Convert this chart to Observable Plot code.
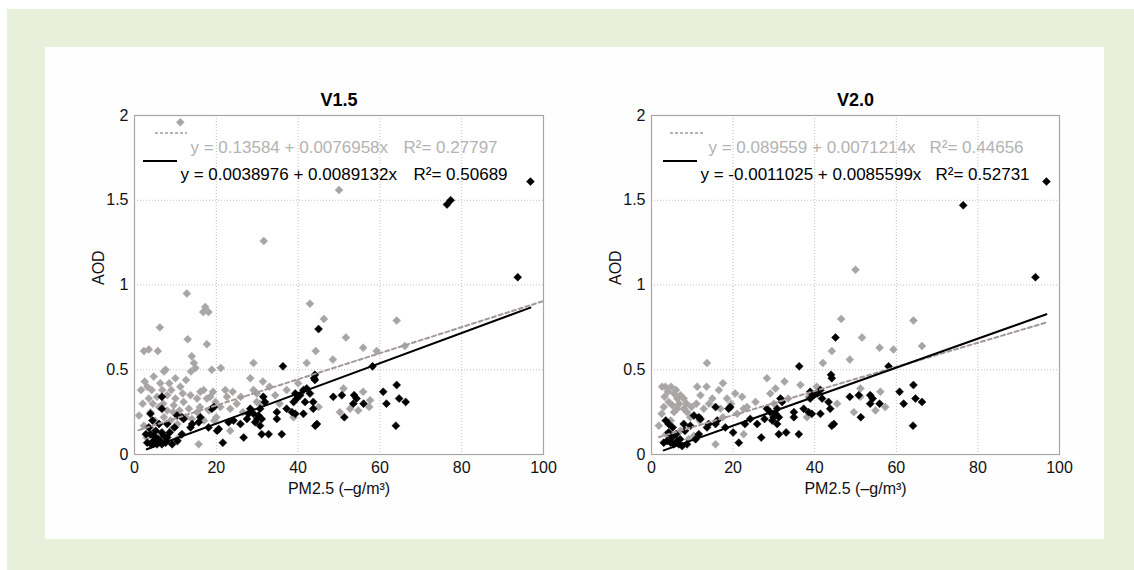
<!DOCTYPE html>
<html>
<head>
<meta charset="utf-8">
<script src="https://cdn.jsdelivr.net/npm/d3@7"></script>
<script src="https://cdn.jsdelivr.net/npm/@observablehq/plot@0.6"></script>
<style>
  html, body { margin: 0; padding: 0; background: #ffffff; }
  body { width: 1134px; height: 570px; position: relative; overflow: hidden; font-family: "Liberation Sans", Arial, sans-serif; }
  #green { position: absolute; left: 7px; top: 9px; width: 1127px; height: 561px; background: #e8f0dc; }
  #panel { position: absolute; left: 45px; top: 47px; width: 1059px; height: 492px; background: #fefefe; }
  .chart { position: absolute; top: 70px; }
  #left { left: 50px; }
  #right { left: 567px; }
</style>
</head>
<body>
<div id="green"></div>
<div id="panel"></div>
<div id="left" class="chart"></div>
<div id="right" class="chart"></div>
<script>
// ---------- data (PM2.5 µg/m3, AOD) ----------
const panelTitles = ["V1.5", "V2.0"];
const xTicks = [0, 20, 40, 60, 80, 100];
const yTicks = [0, 0.5, 1, 1.5, 2];

const v15Gray = [
  [11.2,1.96],[50,1.56],[31.6,1.26],
  [12.8,0.95],[17.3,0.87],[16.8,0.84],[18.1,0.84],[6.2,0.75],[13,0.68],[17.7,0.65],[2.3,0.61],[3.5,0.62],[5.7,0.61],
  [42.9,0.89],[46.3,0.80],[44.3,0.61],[51.7,0.69],[55.9,0.63],[59.2,0.61],[64.1,0.79],[66.1,0.64],[48.5,0.56],[42.1,0.54],[29.1,0.54],[21.1,0.51],[18.9,0.50],
  [14,0.58],[14.5,0.54],[13.8,0.49],[14.9,0.51],[7.2,0.49],[7.6,0.5],[4.7,0.46],[3.1,0.40],[6.3,0.42],[11.2,0.40],[16.1,0.37],[16.9,0.38],[19.2,0.37],[22.2,0.38],[22.6,0.34],[28.3,0.45],[31.4,0.43],[29.1,0.38],[29.9,0.36],[34.4,0.35],[37.2,0.38],[51.1,0.39],[57.6,0.32],[55.9,0.37],
  [1.1,0.23],[3.9,0.25],[5.5,0.34],[8,0.35],[9.6,0.29],[12,0.31],[13.3,0.27],[15.3,0.25],[13.7,0.35],[15.3,0.33],[18.5,0.34],[21,0.28],[23.4,0.27],[23.4,0.14],[15.7,0.06],[50.2,0.25],[52.7,0.27],[54.7,0.26],[57.4,0.28],[38.9,0.22],[29.9,0.31],[30.7,0.30],[9.2,0.15],[10.8,0.1],[3.9,0.15],[2.3,0.17],[7.2,0.22],[8.8,0.2],[17.7,0.33],[19.8,0.31],
  [4.5,0.3],[6,0.28],[10,0.33],[11,0.26],[9,0.38],[2,0.3],[5,0.2],[12.5,0.22],[20,0.22],[25,0.3],[26,0.34],[33,0.4],[35.5,0.3],[40,0.42],[45,0.28],[3,0.1],[6.5,0.12],[8,0.26],[10.5,0.18],[17,0.2],
  [3.5,0.33],[4.2,0.38],[6.8,0.38],[8.5,0.42],[10,0.45],[11.8,0.36],[12.6,0.44],[7,0.3],[9.5,0.25],[14,0.21],[16,0.28],[18.2,0.26],[19.5,0.2],[24,0.37],[26.5,0.25],[2.5,0.43],[1.6,0.38]
];
const v15Black = [
  [96.8,1.61],[76.4,1.475],[77.3,1.50],[93.7,1.046],
  [45,0.74],[36.3,0.52],[44.1,0.47],[43.9,0.45],[44.1,0.44],[58.2,0.52],[64.1,0.41],[60.8,0.37],[64.7,0.33],[66.3,0.31],[61.6,0.30],[63.9,0.17],
  [48.6,0.34],[50.7,0.35],[53.7,0.35],[54.3,0.33],[53.5,0.30],[56,0.30],[51.3,0.22],[44.6,0.18],[44.2,0.17],[36,0.12],
  [31.5,0.34],[31.9,0.31],[30.7,0.27],[39.3,0.36],[40.5,0.35],[41.3,0.38],[42.1,0.39],[42.9,0.36],[39.7,0.33],[38.9,0.31],[41.7,0.31],
  [43.7,0.31],[43.7,0.27],[41.3,0.24],[37.2,0.27],[38.5,0.25],[39.3,0.24],[34.8,0.25],[34.8,0.21],
  [28.3,0.27],[29.1,0.24],[30,0.21],[30.3,0.23],[31.1,0.21],[29.5,0.19],[30.7,0.17],[27.5,0.21],[27.9,0.24],[26.7,0.1],[31.1,0.12],[32.8,0.12],
  [25.9,0.18],[24.2,0.2],[23,0.19],[21.6,0.07],[20.2,0.14],[20.6,0.15],[19.4,0.28],[18.9,0.27],[18.1,0.16],[16.1,0.22],[15.7,0.19],
  [14.1,0.18],[13.7,0.16],[11.6,0.22],[12,0.21],[10.4,0.23],[11.6,0.12],[8,0.18],[6.7,0.34],[6.7,0.27],[3.9,0.24],
  [3.5,0.16],[3.9,0.12],[4.7,0.11],[3.1,0.07],[4.1,0.06],[5.5,0.06],[6.7,0.06],[7.6,0.07],[9.2,0.06],[6.3,0.08],[5.1,0.1],[4.6,0.08],[6.7,0.13],[8,0.1],
  [5.8,0.09],[7.2,0.11],[8.6,0.13],[9.8,0.16],[4.4,0.2],[5.2,0.14],[6,0.18],[2.8,0.12],[7.8,0.08],[10.5,0.08]
];
const v20Gray = [
  [50,1.09],[46.5,0.80],[51.6,0.69],[55.9,0.63],[59.3,0.62],[64.2,0.79],[66.3,0.64],[44.2,0.61],[48.6,0.56],[42,0.54],[13.6,0.54],
  [2.6,0.40],[3.4,0.40],[11.2,0.40],[16.5,0.38],[28.3,0.45],[32.6,0.43],[36.5,0.41],[29.1,0.36],[30.4,0.39],
  [5.5,0.36],[7.1,0.35],[7.9,0.33],[6.3,0.33],[5.1,0.29],[6.3,0.27],[5.5,0.25],[7.9,0.27],[8.7,0.25],
  [14.9,0.33],[14.1,0.30],[12.8,0.27],[16.9,0.27],[18.5,0.33],[22.2,0.34],[22.6,0.27],[23.4,0.28],[21,0.24],[22.6,0.12],[15.7,0.06],
  [1.8,0.17],[4.7,0.20],[7.1,0.14],[10.4,0.11],[9.1,0.09],[38.1,0.22],[51.2,0.34],[49.6,0.25],[54.9,0.26],[57.3,0.28],[56.1,0.37],[51.2,0.39],[38.5,0.34],[30,0.30],
  [4.2,0.31],[6.8,0.30],[9.5,0.22],[11.8,0.2],[3.6,0.12],[17.5,0.22],[25.5,0.31],[33.5,0.33],[40.5,0.4],[45.5,0.3],
  [3.2,0.34],[4,0.37],[4.8,0.4],[6,0.38],[8.6,0.3],[9.8,0.28],[11,0.3],[12,0.35],[13.5,0.4],[17.5,0.42],[19.5,0.3],[20.5,0.36],[2.5,0.24],[3,0.28]
];
const v20Black = [
  [96.8,1.61],[76.4,1.47],[94.1,1.046],
  [45.1,0.69],[36.2,0.52],[44,0.47],[44.2,0.45],[58.1,0.52],[64.2,0.41],[60.8,0.37],[64.7,0.33],[66.3,0.31],[61.8,0.30],[64.1,0.17],
  [48.6,0.34],[50.8,0.35],[53.6,0.35],[54.2,0.33],[53.6,0.30],[55.9,0.30],[51.3,0.22],[44.7,0.18],[44.2,0.17],[36.1,0.12],
  [31.6,0.33],[32,0.31],[30.8,0.27],[38.9,0.37],[40.6,0.36],[41.4,0.38],[39.8,0.35],[38.9,0.33],[41.8,0.33],[43.4,0.31],
  [43.8,0.27],[41.4,0.24],[37.3,0.27],[38.5,0.25],[39.3,0.24],[34.9,0.25],[34.9,0.22],
  [28.3,0.27],[29.1,0.25],[29.9,0.22],[30.4,0.24],[31.2,0.22],[29.6,0.20],[30.8,0.18],[27.7,0.21],[26.9,0.10],[31.2,0.12],[33,0.13],
  [25.9,0.18],[24.2,0.21],[22.9,0.18],[21.4,0.07],[20,0.13],[19.3,0.28],[18.9,0.27],[18.1,0.16],[16.1,0.20],[15.7,0.18],
  [14,0.18],[13.6,0.16],[11.6,0.22],[12,0.21],[10.4,0.23],[11.6,0.12],[7.9,0.18],[15.7,0.28],[4.2,0.18],
  [4.2,0.13],[3.8,0.08],[4.7,0.07],[3,0.07],[5.5,0.06],[6.7,0.06],[7.5,0.05],[8.7,0.06],[6.3,0.08],
  [5,0.1],[6,0.12],[7,0.09],[8.2,0.14],[9.5,0.17],[5.2,0.16],[3.5,0.2],[10.8,0.09]
];

// regression fits: [intercept, slope, R2], drawn over [xStart, xEnd]
const v15GrayFit = [0.13584, 0.0076958, 0.27797];
const v15BlackFit = [0.0038976, 0.0089132, 0.50689];
const v20GrayFit = [0.089559, 0.0071214, 0.44656];
const v20BlackFit = [-0.0011025, 0.0085599, 0.52731];
const v15GrayRange = [1, 100];
const v15BlackRange = [3, 96.8];
const v20GrayRange = [1.8, 96.8];
const v20BlackRange = [3, 96.8];

// ---------- styling ----------
const GRAY_PT = "#a9a5a5";
const GRAY_LINE = "#a39898";
const GRAY_TXT = "#b4b2b2";
const FRAME = "#aca4a4";
const GRID = "#c4bdbd";
const FONT = "'Liberation Sans', Arial, sans-serif";

function fmtEq(fit) {
  const a = fit[0], b = fit[1];
  return `y = ${a} + ${b}x`;
}

function fitLine(fit, range) {
  return range.map(x => ({x, y: fit[0] + fit[1] * x}));
}

function legendSamples(items) {
  return (index, scales, values, dimensions) => {
    const g = d3.create("svg:g");
    for (const it of items) {
      g.append("line")
        .attr("x1", dimensions.marginLeft + it.x1)
        .attr("x2", dimensions.marginLeft + it.x2)
        .attr("y1", dimensions.marginTop + it.y)
        .attr("y2", dimensions.marginTop + it.y)
        .attr("stroke", it.stroke)
        .attr("stroke-width", it.width)
        .attr("stroke-dasharray", it.dash || null);
    }
    return g.node();
  };
}

function makePanel(opts) {
  const {title, gray, black, grayFit, blackFit, grayRange, blackRange, lg} = opts;
  const grayData = gray.map(([x, y]) => ({x, y}));
  const blackData = black.map(([x, y]) => ({x, y}));
  return Plot.plot({
    width: 520,
    height: 440,
    marginLeft: 84,
    marginRight: opts.marginRight,
    marginTop: 45,
    marginBottom: 56,
    style: {fontFamily: FONT, fontSize: "16px", color: "#111", background: "transparent"},
    x: {domain: [0, 100]},
    y: {domain: [0, 2]},
    marks: [
      Plot.frame({fill: "#ffffff"}),
      Plot.gridX({ticks: [20, 40, 60, 80], stroke: GRID, strokeOpacity: 1, strokeDasharray: "1,2"}),
      Plot.gridY({ticks: [0.5, 1, 1.5], stroke: GRID, strokeOpacity: 1, strokeDasharray: "1,2"}),
      Plot.frame({stroke: FRAME, strokeWidth: 1.2}),
      Plot.axisX({ticks: xTicks, tickSize: 0, tickPadding: 7, fontSize: 16, label: null, tickFormat: d => String(d)}),
      Plot.axisY({ticks: yTicks, tickSize: 0, tickPadding: 6, fontSize: 16, label: null, tickFormat: d => String(d)}),
      Plot.dot(grayData, {x: "x", y: "y", symbol: "diamond2", r: 3.6, fill: GRAY_PT, stroke: GRAY_PT, strokeWidth: 0.5}),
      Plot.dot(blackData, {x: "x", y: "y", symbol: "diamond2", r: 3.6, fill: "#000", stroke: "#000", strokeWidth: 0.5}),
      Plot.line(fitLine(grayFit, grayRange), {x: "x", y: "y", stroke: GRAY_LINE, strokeWidth: 2, strokeDasharray: "4,3"}),
      Plot.line(fitLine(blackFit, blackRange), {x: "x", y: "y", stroke: "#000", strokeWidth: 2}),
      legendSamples([
        {x1: lg.gdash[0], x2: lg.gdash[1], y: 18, stroke: GRAY_LINE, width: 1.6, dash: "3,2"},
        {x1: lg.bline[0], x2: lg.bline[1], y: 46, stroke: "#000", width: 2}
      ]),
      Plot.text([fmtEq(grayFit)], {text: d => d, frameAnchor: "top-left", dx: lg.gtext, dy: 25, textAnchor: "start", fill: GRAY_TXT, fontSize: 17}),
      Plot.text([`R²= ${grayFit[2]}`], {text: d => d, frameAnchor: "top-left", dx: lg.gr2, dy: 25, textAnchor: "start", fill: GRAY_TXT, fontSize: 17}),
      Plot.text([fmtEq(blackFit)], {text: d => d, frameAnchor: "top-left", dx: lg.btext, dy: 52, textAnchor: "start", fill: "#000", fontSize: 17}),
      Plot.text([`R²= ${blackFit[2]}`], {text: d => d, frameAnchor: "top-left", dx: lg.br2, dy: 52, textAnchor: "start", fill: "#000", fontSize: 17}),
      Plot.text([title], {text: d => d, frameAnchor: "top", dy: -22, fontWeight: "bold", fontSize: 18, fill: "#000"}),
      Plot.text(["AOD"], {text: d => d, frameAnchor: "left", dx: -36, rotate: -90, fontSize: 16, fill: "#111"}),
      Plot.text(["PM2.5 (–g/m³)"], {text: d => d, frameAnchor: "bottom", dy: 39, fontSize: 16, fill: "#111"})
    ]
  });
}

document.getElementById("left").appendChild(makePanel({
  title: panelTitles[0], gray: v15Gray, black: v15Black,
  grayFit: v15GrayFit, blackFit: v15BlackFit, grayRange: v15GrayRange, blackRange: v15BlackRange,
  marginRight: 27,
  lg: {gdash: [21, 53], bline: [9, 43], gtext: 56, btext: 46, gr2: 269, br2: 279}
}));
document.getElementById("right").appendChild(makePanel({
  title: panelTitles[1], gray: v20Gray, black: v20Black,
  grayFit: v20GrayFit, blackFit: v20BlackFit, grayRange: v20GrayRange, blackRange: v20BlackRange,
  marginRight: 28,
  lg: {gdash: [19, 54], bline: [12, 46], gtext: 57, btext: 49, gr2: 278, br2: 284}
}));
</script>
</body>
</html>
